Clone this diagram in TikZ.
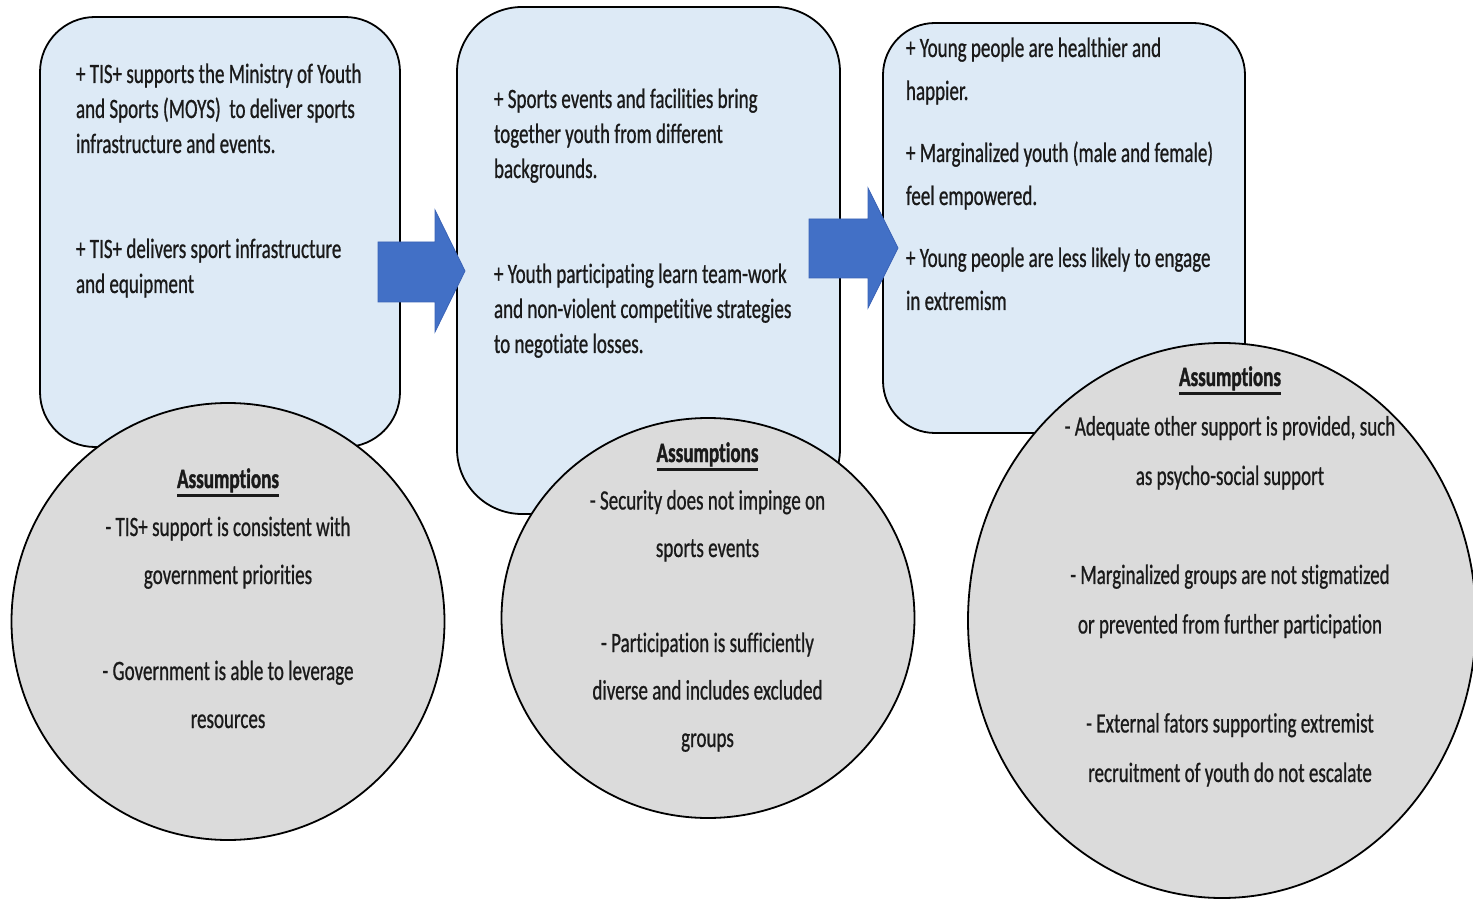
\documentclass[tikz,border=0pt]{standalone}
\usepackage{fontspec}
\setmainfont{Carlito}[FakeStretch=0.68, FakeBold=0.7, Ligatures=NoCommon,
  BoldFeatures={FakeBold=1.2}]
\usetikzlibrary{shapes.geometric}

\definecolor{panelfill}{HTML}{DDEAF6}
\definecolor{assumefill}{HTML}{DBDBDB}
\definecolor{arrowblue}{HTML}{4270C6}
\definecolor{arrowedge}{HTML}{3A62B5}
\definecolor{ink}{HTML}{1A1A1A}

% a block of lines whose baseline is the baseline of its first line
\newcommand\textblock[3]{\fontsize{28}{#1}\selectfont\begin{tabular}[t]{@{}#2@{}}#3\end{tabular}}
% bold heading with a heavy underline
\newlength\headw
\newcommand\heading[1]{\settowidth\headw{\textbf{#1}}\textbf{#1}\hspace{-\headw}\rule[-9pt]{\headw}{2.6pt}}

\begin{document}
\begin{tikzpicture}[x=1pt,y=-1pt,
  panel/.style={draw=black, line width=1.8pt, fill=panelfill, inner sep=0pt, outer sep=0pt},
  assume/.style={ellipse, draw=black, line width=1.8pt, fill=assumefill, inner sep=0pt, outer sep=0pt},
  blockarrow/.style={fill=arrowblue, draw=arrowedge, line width=0.8pt, line join=miter},
  words/.style={inner sep=0pt, outer sep=0pt, text=ink}]
\useasboundingbox (0,0) rectangle (1473,901);

% stage panels
\node[panel, rounded corners=55pt, minimum width=360pt, minimum height=430pt] (b1) at (220,232) {};
\node[panel, rounded corners=65pt, minimum width=383pt, minimum height=507pt] (b2) at (648.5,260.5) {};
\node[panel, rounded corners=52pt, minimum width=362pt, minimum height=410pt] (b3) at (1064,228) {};

% block arrows between the panels
\coordinate (a1s) at (378,272);
\coordinate (a1t) at (465,271);
\path[blockarrow] (a1s) ++(0,-30) -- ++(57,0) -- ++(0,-32) -- (a1t) -- ++(-30,61) -- ++(0,-30) -- ++(-57,0) -- cycle;
\coordinate (a2s) at (809,248.5);
\coordinate (a2t) at (898,248);
\path[blockarrow] (a2s) ++(0,-29.5) -- ++(59,0) -- ++(0,-31) -- (a2t) -- ++(-30,60) -- ++(0,-30) -- ++(-59,0) -- cycle;

% assumption bubbles
\node[assume, minimum width=433pt, minimum height=437pt] (c1) at (228,621.5) {};
\node[assume, minimum width=413pt, minimum height=400pt] (c2) at (708,618) {};
\node[assume, minimum width=508pt, minimum height=555pt] (c3) at (1222,620.5) {};

% panel texts
\node[words, anchor=base west] (p1) at (76,83) {\textblock{35pt}{l}{%
+ TIS+ supports the Ministry of Youth\\
and Sports (MOYS)~~to deliver sports\\
infrastructure and events.\\ \\ \\
+ TIS+ delivers sport infrastructure\\
and equipment}};
\node[words, anchor=base west] (p2) at (494,108) {\textblock{35pt}{l}{%
+ Sports events and facilities bring\\
together youth from different\\
backgrounds.\\ \\ \\
+ Youth participating learn team-work\\
and non-violent competitive strategies\\
to negotiate losses.}};
\node[words, anchor=base west] (p3) at (906,57) {\textblock{43pt}{l}{%
+ Young people are healthier and\\
happier.\\[19pt]
+ Marginalized youth (male and female)\\
feel empowered.\\[19pt]
+ Young people are less likely to engage\\
in extremism}};

% assumption texts
\node[words, anchor=base] (q1) at (228,488) {\textblock{48pt}{c}{%
\heading{Assumptions}\\
- TIS+ support is consistent with\\
government priorities\\ \\
- Government is able to leverage\\
resources}};
\node[words, anchor=base] (q2) at (707.5,462) {\textblock{47.5pt}{c}{%
\heading{Assumptions}\\
- Security does not impinge on\\
sports events\\ \\
- Participation is sufficiently\\
diverse and includes excluded\\
groups}};
\node[words, anchor=base] (q3) at (1230,386) {\textblock{49.5pt}{c}{%
\heading{Assumptions}\\
- Adequate other support is provided, such\\
as psycho-social support\\ \\
- Marginalized groups are not stigmatized\\
or prevented from further participation\\ \\
- External fators supporting extremist\\
recruitment of youth do not escalate}};
\end{tikzpicture}
\end{document}
